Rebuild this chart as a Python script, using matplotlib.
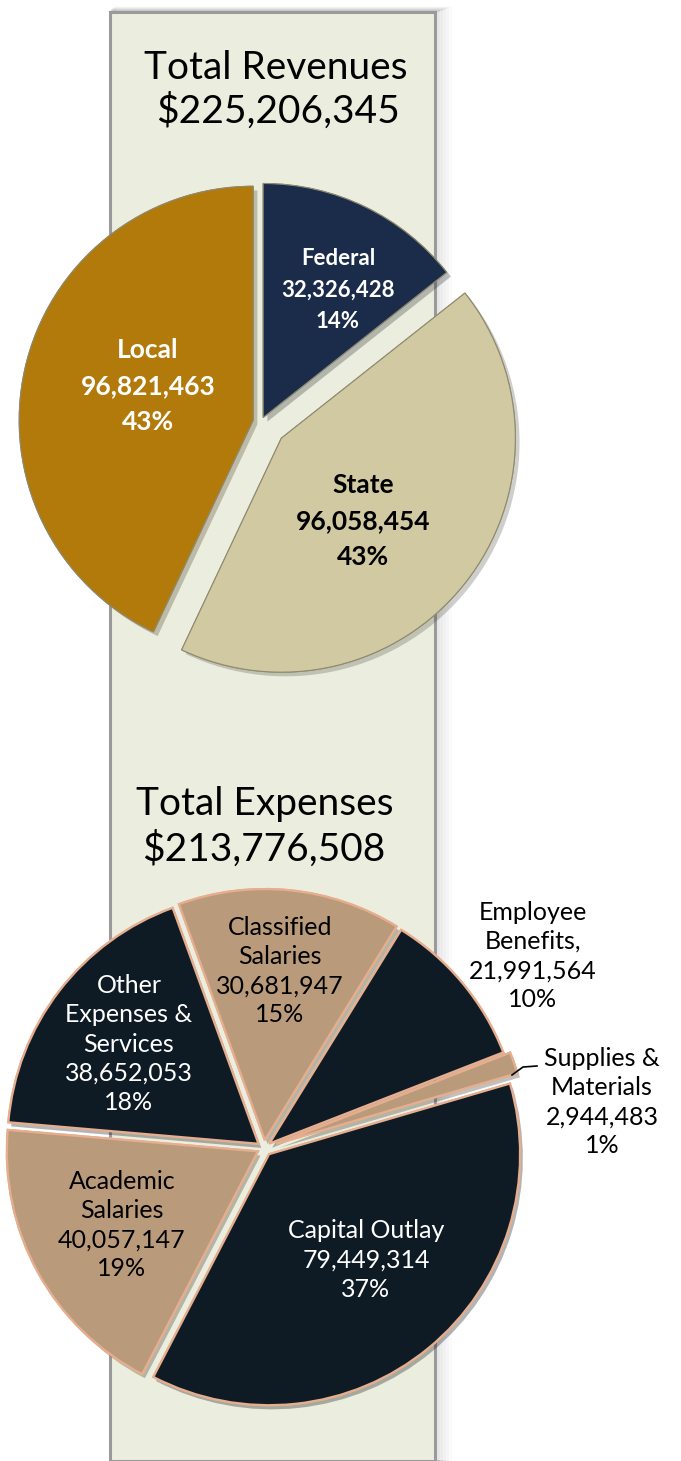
import numpy as np
import matplotlib.pyplot as plt
import matplotlib.patches as mpatches
import matplotlib.patheffects as pe

W, H = 681, 1461

rev_labels = ["Federal", "State", "Local"]
rev_values = [32326428, 96058454, 96821463]
rev_pct = ["14%", "43%", "43%"]
rev_total = "$225,206,345"

exp_labels = ["Classified\nSalaries", "Employee\nBenefits,", "Supplies &\nMaterials",
              "Capital Outlay", "Academic\nSalaries", "Other\nExpenses &\nServices"]
exp_values = [30681947, 21991564, 2944483, 79449314, 40057147, 38652053]
exp_pct = ["15%", "10%", "1%", "37%", "19%", "18%"]
exp_total = "$213,776,508"

FONT = "Lato"


def Y(y):
    # picture rows run downwards, the axes upwards
    return H - y


def fmt(label, v, pct):
    return f"{label}\n{v:,}\n{pct}"


def band(ax):
    for i, a in enumerate([0.10, 0.08, 0.06, 0.04, 0.02]):
        ax.add_patch(mpatches.Rectangle((110 + i + 1, 0), 325 + 2 * i + 2, Y(12 - i - 1),
                                        facecolor="none", edgecolor=(0, 0, 0, a), lw=2))
    ax.add_patch(mpatches.Rectangle((110, 0), 325, Y(12), facecolor="#EBEEDE",
                                    edgecolor="#9A9A9A", lw=2.2))


def revenues(ax):
    wedges, _ = ax.pie(rev_values, colors=["#1B2C4A", "#D1C9A2", "#B27A0B"],
                       startangle=90, counterclock=False, radius=234,
                       center=(261, Y(422)), explode=[5, 26, 8],
                       wedgeprops=dict(edgecolor="#8F8A70", lw=0.8))
    for w in wedges:
        w.set_path_effects([pe.withSimplePatchShadow(offset=(3, -3), alpha=0.25), pe.Normal()])
    kw = dict(ha="center", va="center", fontweight="bold", family=FONT)
    ax.text(148, Y(386), fmt(rev_labels[2], rev_values[2], rev_pct[2]), color="white",
            fontsize=19, linespacing=1.6, **kw)
    ax.text(338, Y(290), fmt(rev_labels[0], rev_values[0], rev_pct[0]), color="white",
            fontsize=16, linespacing=1.63, **kw)
    ax.text(363, Y(521), fmt(rev_labels[1], rev_values[1], rev_pct[1]), color="black",
            fontsize=19, linespacing=1.6, **kw)
    ax.text(276, Y(68), "Total Revenues", ha="center", va="center", fontsize=28, family=FONT)
    ax.text(278, Y(111), rev_total, ha="center", va="center", fontsize=28, family=FONT)


def expenses(ax):
    dark, tan = "#0F1B24", "#B99B7B"
    wedges, _ = ax.pie(exp_values, colors=[tan, dark, tan, dark, tan, dark],
                       startangle=110, counterclock=False, radius=251,
                       center=(264, Y(1148)), explode=[8, 7, 13, 8, 7, 7],
                       wedgeprops=dict(edgecolor="#E6AE8E", lw=1.6))
    for w in wedges:
        w.set_path_effects([pe.withSimplePatchShadow(offset=(2, -3), alpha=0.3), pe.Normal()])
    kw = dict(ha="center", va="center", fontsize=18, family=FONT, linespacing=1.33)
    pos = [(280, 971), (533, 956), (602, 1102), (366, 1260), (122, 1225), (129, 1044)]
    cols = ["black", "black", "black", "white", "black", "white"]
    for lab, v, p, (x, y), c in zip(exp_labels, exp_values, exp_pct, pos, cols):
        ax.text(x, Y(y), fmt(lab, v, p), color=c, **kw)
    ax.plot([512, 523, 537], [Y(1075), Y(1067), Y(1066)], color="black", lw=1.2)
    ax.text(265, Y(804), "Total Expenses", ha="center", va="center", fontsize=28, family=FONT)
    ax.text(264, Y(849), exp_total, ha="center", va="center", fontsize=28, family=FONT)


def main():
    fig = plt.figure(figsize=(W / 100, H / 100), dpi=100)
    ax = fig.add_axes([0, 0, 1, 1])
    band(ax)
    revenues(ax)
    expenses(ax)
    ax.set_xlim(0, W)
    ax.set_ylim(0, H)
    ax.set_aspect("equal")
    ax.axis("off")
    fig.savefig("out.png", dpi=100, facecolor="white")


if __name__ == "__main__":
    main()
